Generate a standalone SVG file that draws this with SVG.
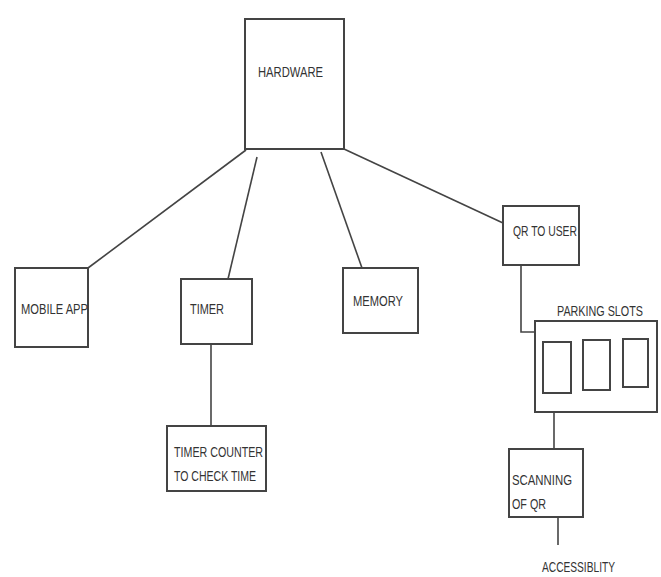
<svg xmlns="http://www.w3.org/2000/svg" width="661" height="577" viewBox="0 0 661 577">
<style>
.box{fill:#fff;stroke:#444;stroke-width:2}
.in{fill:none;stroke:#444;stroke-width:2}
.ln{fill:none;stroke:#444;stroke-width:1.6}
text{font-family:"Liberation Sans",Arial,sans-serif;font-size:14px;fill:#333}
</style>
<rect width="661" height="577" fill="#fff"/>
<g id="connectors">
<line class="ln" x1="246" y1="150" x2="88" y2="268"/>
<line class="ln" x1="257" y1="157" x2="228" y2="279"/>
<line class="ln" x1="321" y1="152" x2="362" y2="268"/>
<line class="ln" x1="344" y1="149" x2="503" y2="223"/>
<line class="ln" x1="211" y1="344" x2="211" y2="426"/>
<polyline class="ln" points="521,265 521,332 535,332"/>
<line class="ln" x1="554" y1="412" x2="554" y2="449"/>
<line class="ln" x1="558" y1="517" x2="558" y2="545"/>
</g>
<g id="hardware">
<rect class="box" x="245" y="19" width="99" height="130"/>
<text x="258" y="77" textLength="65" lengthAdjust="spacingAndGlyphs">HARDWARE</text>
</g>
<g id="mobile-app">
<rect class="box" x="15" y="268" width="73" height="79"/>
<text x="21" y="314" textLength="67" lengthAdjust="spacingAndGlyphs">MOBILE APP</text>
</g>
<g id="timer">
<rect class="box" x="181" y="279" width="71" height="65"/>
<text x="190" y="314" textLength="34" lengthAdjust="spacingAndGlyphs">TIMER</text>
</g>
<g id="timer-counter">
<rect class="box" x="167" y="426" width="99" height="65"/>
<text x="174" y="457" textLength="89" lengthAdjust="spacingAndGlyphs">TIMER COUNTER</text>
<text x="174" y="481" textLength="82" lengthAdjust="spacingAndGlyphs">TO CHECK TIME</text>
</g>
<g id="memory">
<rect class="box" x="343" y="268" width="75" height="65"/>
<text x="353" y="306" textLength="50" lengthAdjust="spacingAndGlyphs">MEMORY</text>
</g>
<g id="qr-to-user">
<rect class="box" x="503" y="206" width="76" height="59"/>
<text x="513" y="236" textLength="64" lengthAdjust="spacingAndGlyphs">QR TO USER</text>
</g>
<g id="parking-slots">
<rect class="box" x="535" y="321" width="122" height="91"/>
<rect class="in" x="543" y="342" width="28" height="51"/>
<rect class="in" x="583" y="340" width="27" height="50"/>
<rect class="in" x="623" y="339" width="25" height="48"/>
<text x="557" y="316" textLength="86" lengthAdjust="spacingAndGlyphs">PARKING SLOTS</text>
</g>
<g id="scanning">
<rect class="box" x="509" y="449" width="74" height="68"/>
<text x="512" y="485" textLength="60" lengthAdjust="spacingAndGlyphs">SCANNING</text>
<text x="512" y="509" textLength="34" lengthAdjust="spacingAndGlyphs">OF QR</text>
</g>
<g id="accessibility">
<text x="542" y="572" textLength="73" lengthAdjust="spacingAndGlyphs">ACCESSIBLITY</text>
</g>
</svg>
